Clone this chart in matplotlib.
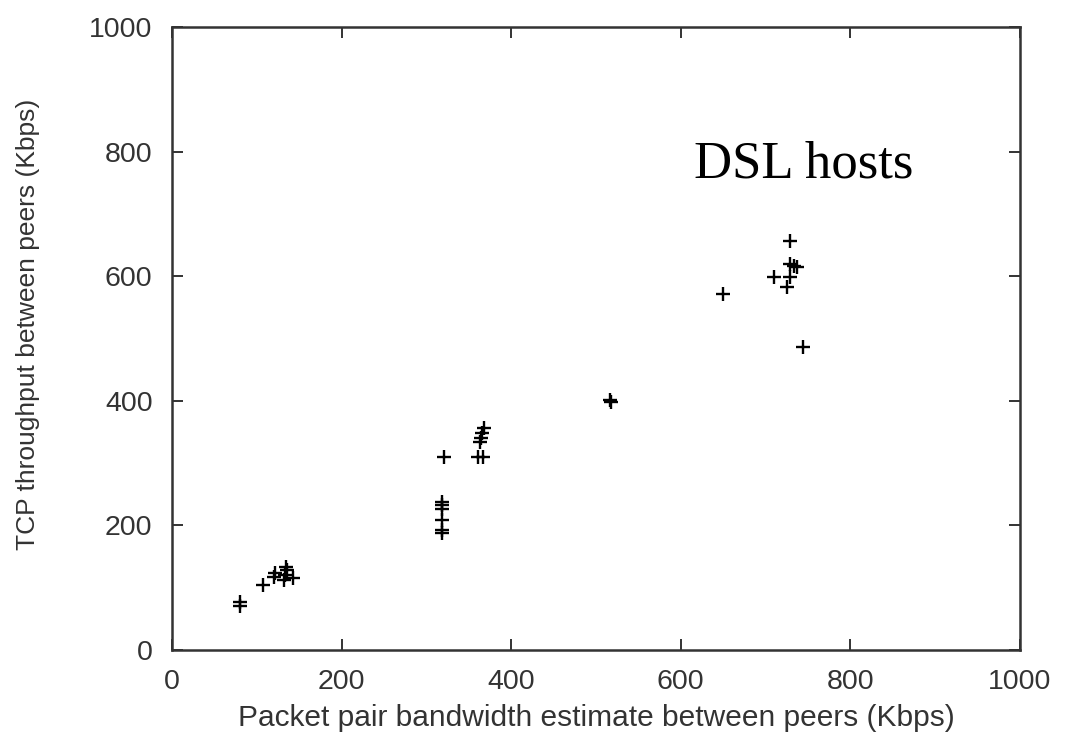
import matplotlib

matplotlib.use("Agg")
import matplotlib.pyplot as plt

# packet pair estimate (Kbps) vs measured TCP throughput (Kbps), DSL hosts
bandwidth_estimate = [
    80, 80, 107, 120, 122, 133, 135, 136, 143, 132,
    319, 319, 319, 319, 319, 319, 321,
    361, 367, 363, 365, 366, 368,
    516, 518,
    650, 710, 725, 729, 729, 729, 733, 737, 744,
]
tcp_throughput = [
    77, 71, 104, 118, 123, 120, 134, 128, 115, 113,
    238, 232, 226, 209, 193, 188, 310,
    310, 310, 334, 340, 348, 356,
    401, 398,
    571, 598, 582, 598, 620, 657, 617, 615, 487,
]

x_ticks = [0, 200, 400, 600, 800, 1000]
y_ticks = [0, 200, 400, 600, 800, 1000]

fig = plt.figure(figsize=(10.72, 7.40), dpi=100)
ax = fig.add_axes([0.1604, 0.1216, 0.7911, 0.8419])

ax.plot(bandwidth_estimate, tcp_throughput, "+", color="black",
        markersize=10, markeredgewidth=1.7, linestyle="none")

ax.set_xlim(0, 1000)
ax.set_ylim(0, 1000)
ax.set_xticks(x_ticks)
ax.set_yticks(y_ticks)

for side in ax.spines.values():
    side.set_linewidth(1.8)
    side.set_color("#333333")

ax.tick_params(direction="in", length=8, width=1.4, color="#333333",
               labelsize=20.5, labelcolor="#333333", pad=14,
               top=True, right=True)
for lbl in ax.get_xticklabels() + ax.get_yticklabels():
    lbl.set_family("Liberation Sans")

ax.set_xlabel("Packet pair bandwidth estimate between peers (Kbps)",
              fontsize=21.5, color="#333333", family="Liberation Sans", labelpad=6)
ax.set_ylabel("TCP throughput between peers (Kbps)",
              fontsize=19, color="#333333", family="Liberation Sans")
ax.yaxis.set_label_coords(-0.156, 0.522)

ax.text(615, 759, "DSL hosts", fontsize=38, family="Liberation Serif",
        color="black", ha="left", va="baseline")

fig.savefig("out.png", dpi=100)
